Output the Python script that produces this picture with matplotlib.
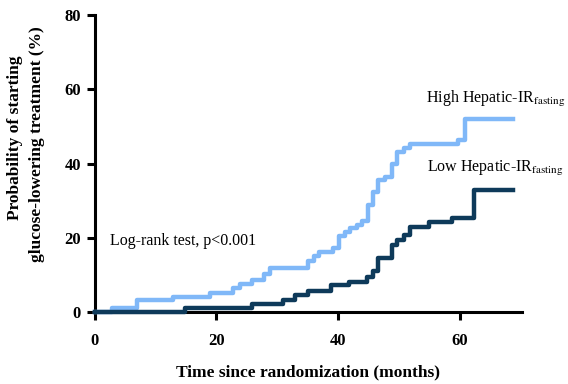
import matplotlib
matplotlib.use("Agg")
import matplotlib.pyplot as plt

# Dane (czas w miesiącach, prawdopodobieństwo w %)
months_high = [0, 2.8, 6.9, 12.9, 19.0, 22.8, 23.9, 25.8, 27.9, 28.8, 35.1, 36.0, 36.9, 39.2, 40.1,
               41.2, 42.0, 43.1, 43.9, 44.9, 45.8, 46.6, 47.7, 48.8, 49.7, 50.8, 51.9, 59.8, 60.9, 68.8]
prob_high = [0, 1.1, 3.3, 4.2, 5.3, 6.5, 7.5, 8.7, 10.2, 11.9, 13.9, 15.2, 16.1, 17.2, 20.5,
             21.7, 22.6, 23.5, 24.7, 28.9, 32.5, 35.6, 36.5, 39.8, 43.0, 44.1, 45.3, 46.4, 52.0, 52.0]

months_low = [0, 14.9, 25.8, 31.0, 33.0, 35.1, 38.9, 41.8, 44.8, 45.8, 46.6, 48.8, 49.7, 50.8,
              51.9, 54.9, 58.7, 62.3, 68.8]
prob_low = [0, 1.1, 2.2, 3.4, 4.6, 5.6, 7.3, 8.2, 9.6, 11.2, 14.5, 18.1, 19.5, 20.8,
            23.0, 24.4, 25.5, 32.9, 32.9]

x_ticks = [0, 20, 40, 60]
y_ticks = [0, 20, 40, 60, 80]

plt.rcParams['font.family'] = ['Liberation Serif', 'DejaVu Serif']
plt.rcParams['mathtext.fontset'] = 'stix'

fig = plt.figure(figsize=(5.68, 3.84), dpi=100)
ax = fig.add_axes([0.1667, 0.1867, 0.7518, 0.7743])

ax.step(months_high, prob_high, where='post', color='#80B8F8', lw=3.2, clip_on=False, zorder=3)
ax.step(months_low, prob_low, where='post', color='#0E3A5A', lw=3.2, clip_on=False, zorder=4)

ax.set_xlim(0, 70.2)
ax.set_ylim(0, 80)
ax.set_xticks(x_ticks)
ax.set_yticks(y_ticks)
for s in ['top', 'right']:
    ax.spines[s].set_visible(False)
for s in ['left', 'bottom']:
    ax.spines[s].set_linewidth(2.2)
ax.tick_params(width=2.2, length=6, labelsize=12)
ax.tick_params(axis='y', pad=4)
ax.tick_params(axis='x', pad=9)
for lab in ax.get_xticklabels() + ax.get_yticklabels():
    lab.set_fontweight('bold')

ax.text(2.5, 19.2, 'Log-rank test, p<0.001', fontsize=11.5, va='center', ha='left')
# etykiety grup przesunięte lekko w lewo, aby indeks dolny mieścił się w obrazku
ax.text(54.4, 57.4, r'High Hepatic-IR$_{\mathrm{fasting}}$', fontsize=11.5, va='center', ha='left',
        clip_on=False)
ax.text(54.7, 38.6, r'Low Hepatic-IR$_{\mathrm{fasting}}$', fontsize=11.5, va='center', ha='left',
        clip_on=False)

fig.text(15 / 568, 1 - 138 / 384, 'Probability of starting', rotation=90, fontsize=12.5,
         fontweight='bold', ha='center', va='center')
fig.text(37 / 568, 1 - 144 / 384, 'glucose-lowering treatment (%)', rotation=90, fontsize=12.5,
         fontweight='bold', ha='center', va='center')
fig.text(308 / 568, 1 - 372 / 384, 'Time since randomization (months)', fontsize=12.5,
         fontweight='bold', ha='center', va='center')

fig.savefig('out.png', dpi=100)
